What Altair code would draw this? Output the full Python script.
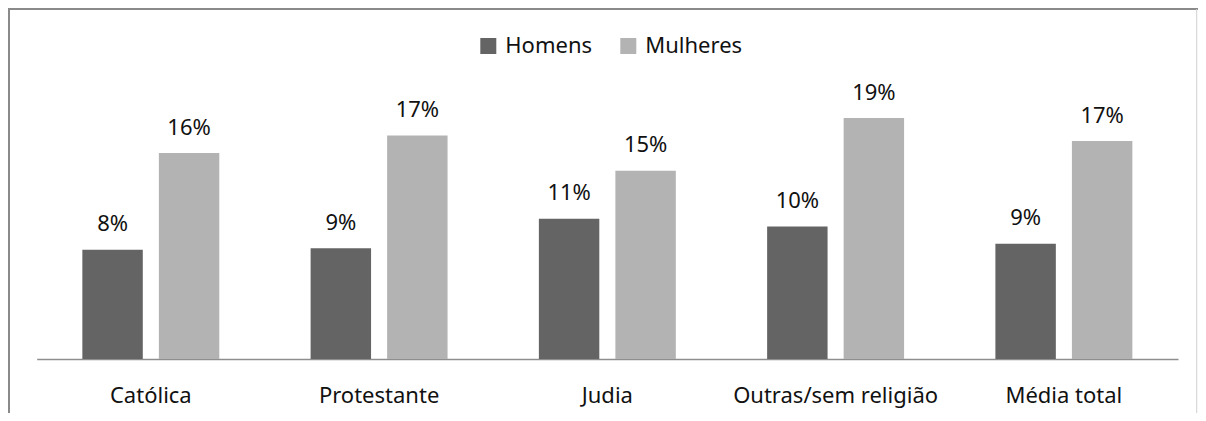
import altair as alt
import pandas as pd

categories = ["Católica", "Protestante", "Judia", "Outras/sem religião", "Média total"]
series = ["Homens", "Mulheres"]
homens = [0.0845, 0.0856, 0.1085, 0.1026, 0.0892]
mulheres = [0.1593, 0.1730, 0.1456, 0.1864, 0.1686]
colors = ["#646464", "#b3b3b3"]

FONT = "Noto Sans"
FS = 22
TXT = "#111111"

rows = []
for c, h, m in zip(categories, homens, mulheres):
    rows.append({"religiao": c, "sexo": "Homens", "valor": h})
    rows.append({"religiao": c, "sexo": "Mulheres", "valor": m})
df = pd.DataFrame(rows)

base = alt.Chart(df).encode(
    x=alt.X(
        "religiao:N",
        sort=categories,
        scale=alt.Scale(paddingInner=0.4, paddingOuter=0.2),
        axis=alt.Axis(
            title=None, labelAngle=0, ticks=False, tickSize=0, grid=False,
            labelPadding=43, labelBaseline="alphabetic", labelLimit=0,
            labelFont=FONT, labelFontSize=FS, labelColor=TXT,
            domainColor="#8e8e8e", domainWidth=1.5,
        ),
    ),
    xOffset=alt.XOffset("sexo:N", sort=series,
                        scale=alt.Scale(paddingInner=0.21, paddingOuter=0)),
    y=alt.Y("valor:Q", scale=alt.Scale(domain=[0, 0.27]), axis=None),
)

bars = base.mark_bar().encode(
    color=alt.Color(
        "sexo:N",
        scale=alt.Scale(domain=series, range=colors),
        legend=alt.Legend(
            title=None, orient="none", direction="horizontal",
            legendX=440.6, legendY=25, symbolType="square", symbolSize=256,
            symbolStrokeWidth=0, labelFont=FONT, labelFontSize=FS,
            labelColor=TXT, labelOffset=6, columnPadding=25, padding=0,
            labelLimit=0,
        ),
    )
)

labels = base.mark_text(
    dy=-18.5, baseline="alphabetic", font=FONT, fontSize=FS, color=TXT
).encode(text=alt.Text("valor:Q", format=".0%"))

frame_df = pd.DataFrame({"k": [0]})
left_line = alt.Chart(frame_df).mark_rule(color="#8a8a8a", strokeWidth=2).encode(
    x=alt.value(-27.7), y=alt.value(-1), y2=alt.value(420)
)
top_line = alt.Chart(frame_df).mark_rule(color="#8a8a8a", strokeWidth=2).encode(
    x=alt.value(-28.7), x2=alt.value(1170), y=alt.value(-1)
)
right_line = alt.Chart(frame_df).mark_rule(color="#d0d0d0", strokeWidth=1).encode(
    x=alt.value(1160), y=alt.value(-1), y2=alt.value(420)
)

chart = alt.layer(bars, labels, left_line, top_line, right_line).properties(
    width=1141.3,
    height=349,
    autosize=alt.AutoSizeParams(type="none"),
    padding={"left": 28.7, "top": 2, "right": 20, "bottom": 54},
    background="white",
).configure_view(strokeWidth=0)

chart.save("out.html", embed_options={"renderer": "svg", "actions": False})
